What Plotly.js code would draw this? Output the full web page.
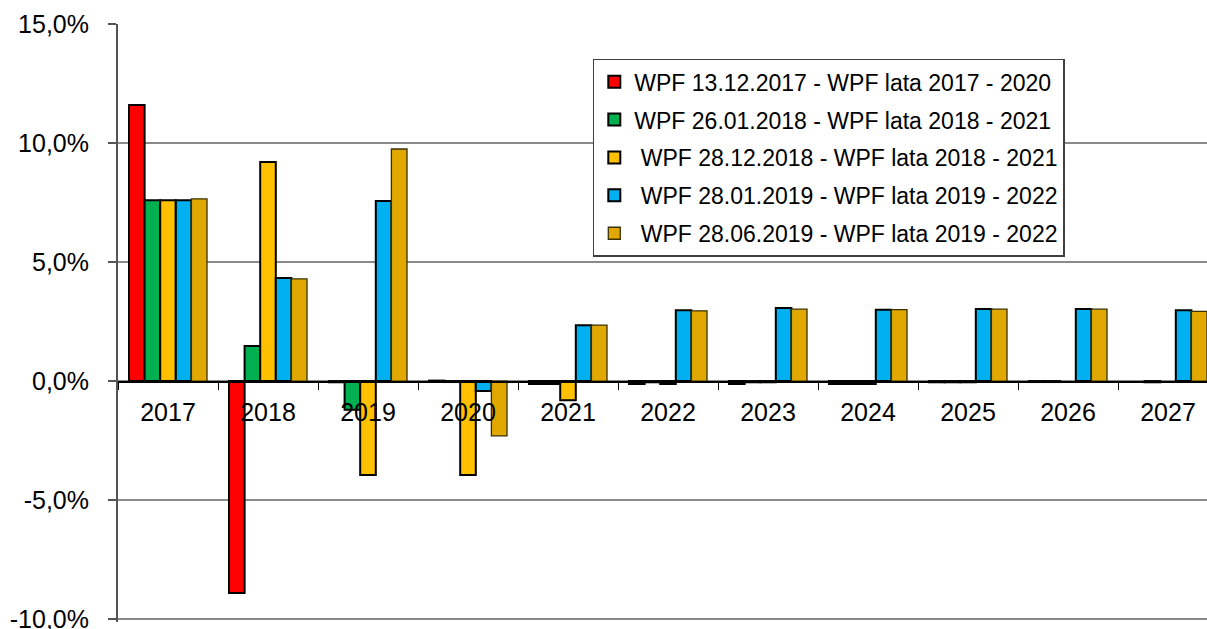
<!DOCTYPE html>
<html>
<head>
<meta charset="utf-8">
<script src="https://cdn.plot.ly/plotly-3.0.1.min.js"></script>
<style>html,body{margin:0;padding:0;background:#fff;}#chart{width:1207px;height:629px;}</style>
</head>
<body>
<div id="chart"></div>
<script>
var years = ['2017','2018','2019','2020','2021','2022','2023','2024','2025','2026','2027'];
var seriesNames = [
  'WPF 13.12.2017 - WPF lata 2017 - 2020',
  'WPF 26.01.2018 - WPF lata 2018 - 2021',
  ' WPF 28.12.2018 - WPF lata 2018 - 2021',
  ' WPF 28.01.2019 - WPF lata 2019 - 2022',
  ' WPF 28.06.2019 - WPF lata 2019 - 2022'
];
var wpf20171213 = [11.6, -8.9, -0.05, 0.02, -0.12, -0.12, -0.12, -0.12, -0.05, -0.04, null];
var wpf20180126 = [7.6, 1.47, -1.2, -0.04, -0.12, -0.05, -0.05, -0.12, -0.05, -0.04, -0.05];
var wpf20181228 = [7.6, 9.2, -3.95, -3.95, -0.8, -0.12, -0.05, -0.12, -0.05, null, null];
var wpf20190128 = [7.6, 4.33, 7.56, -0.42, 2.35, 2.98, 3.07, 3.0, 3.03, 3.03, 2.98];
var wpf20190628 = [7.65, 4.29, 9.75, -2.3, 2.35, 2.95, 3.02, 3.0, 3.02, 3.02, 2.93];
var yTickVals = [-10, -5, 0, 5, 10, 15];
var yTickLabels = ['-10,0%', '-5,0%', '0,0%', '5,0%', '10,0%', '15,0%'];

var allValues = [wpf20171213, wpf20180126, wpf20181228, wpf20190128, wpf20190628];
var colors = ['#FF0000', '#00B050', '#FFC000', '#00B0F0', '#E0A800'];
var lineColors = ['#000000', '#000000', '#000000', '#000000', '#3a3000'];
var lineWidths = [2, 2, 2, 2, 1.3];

var traces = allValues.map(function(v, i){
  return {
    type: 'bar', x: years, y: v, name: seriesNames[i],
    legendgroup: 'g' + i,
    marker: {color: colors[i], line: {color: lineColors[i], width: lineWidths[i]}},
    hoverinfo: 'x+y+name'
  };
});

var yMin = -10.12, yMax = 15;

var layout = {
  width: 1207, height: 629,
  margin: {l: 118, r: 0, t: 24, b: 7},
  paper_bgcolor: '#ffffff', plot_bgcolor: '#ffffff',
  font: {family: 'Liberation Sans, Arial, sans-serif', color: '#000000'},
  barmode: 'group', bargap: 0.22, bargroupgap: 0,
  showlegend: true,
  legend: {
    x: 0.436, y: 0.942, xanchor: 'left', yanchor: 'top',
    bgcolor: '#ffffff', bordercolor: '#404040', borderwidth: 1.5,
    font: {size: 23, family: 'Liberation Sans, Arial, sans-serif', color: '#000'},
    tracegroupgap: 5
  },
  xaxis: {
    type: 'category', range: [-0.5, 10.39],
    anchor: 'free', position: (0 - yMin) / (yMax - yMin),
    showline: true, linecolor: '#000000', linewidth: 1.5,
    ticks: 'outside', tickson: 'boundaries', ticklen: 7, tickcolor: '#000', tickwidth: 1,
    tickfont: {size: 25}, showgrid: false, zeroline: false,
    ticklabelstandoff: 8
  },
  yaxis: {
    range: [yMin, yMax], tickvals: yTickVals, ticktext: yTickLabels,
    showline: true, linecolor: '#555555', linewidth: 2,
    ticks: 'outside', ticklen: 8, tickcolor: '#555', tickwidth: 1.5,
    showgrid: true, gridcolor: '#8a8a8a', gridwidth: 1.5,
    zeroline: false, tickfont: {size: 25}, ticklabelstandoff: 14,
    ticklabeloverflow: 'allow'
  }
};

Plotly.newPlot('chart', traces, layout, {displayModeBar: false, staticPlot: true});
</script>
</body>
</html>
